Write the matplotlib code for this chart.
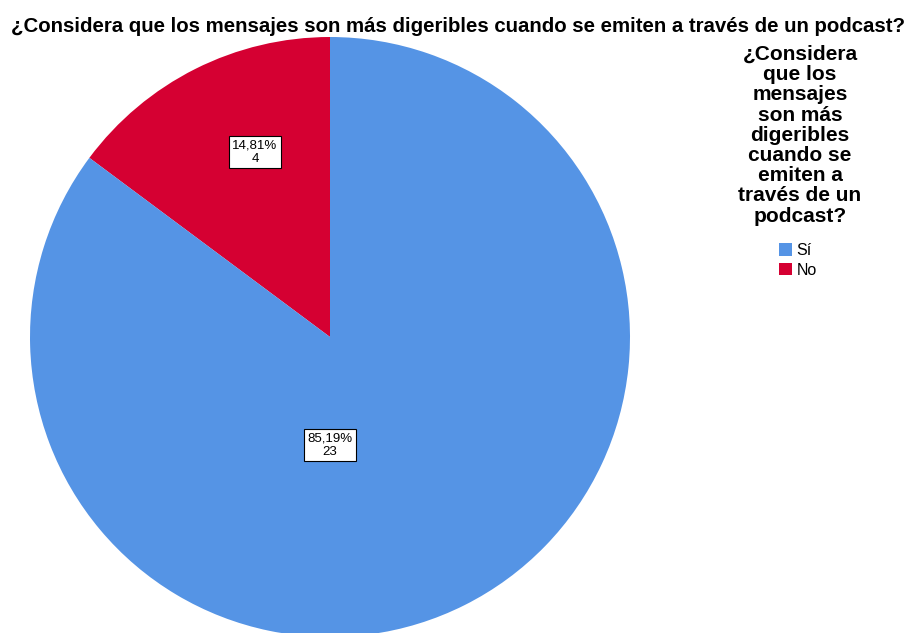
import matplotlib.pyplot as plt
from matplotlib.patches import Patch

# survey answers
categories = ["Sí", "No"]
counts = [23, 4]
colors = {"Sí": "#5594e5", "No": "#d50032"}
title = "¿Considera que los mensajes son más digeribles cuando se emiten a través de un podcast?"
legend_title = "¿Considera\nque los\nmensajes\nson más\ndigeribles\ncuando se\nemiten a\ntravés de un\npodcast?"

plt.rcParams['font.family'] = ['Liberation Sans', 'DejaVu Sans']

W, H = 912, 633
fig = plt.figure(figsize=(W / 100, H / 100), dpi=100)

# pie axes in pixel terms: center (330, 337), radius 300
cx, cy, r = 330, 337, 300
ax = fig.add_axes([(cx - r) / W, (H - cy - r) / H, 2 * r / W, 2 * r / H])

# No first so it sits left of 12 o'clock, Sí fills the rest
order = ["No", "Sí"]
vals = [counts[categories.index(c)] for c in order]
wedges, _ = ax.pie(vals, colors=[colors[c] for c in order], startangle=90,
                   radius=1, wedgeprops=dict(edgecolor='none', linewidth=0))
for w in wedges:
    w.set_clip_on(False)
ax.set_xlim(-1, 1)
ax.set_ylim(-1, 1)
ax.set_aspect('equal')
ax.axis('off')

total = sum(counts)
label_pos = {"No": (-0.25, 0.617), "Sí": (0.0, -0.36)}
for c, n in zip(categories, counts):
    pct = f"{100 * n / total:.2f}".replace(".", ",")
    x, y = label_pos[c]
    ax.text(x, y, f"{pct}%\n{n}", ha='center', va='center', fontsize=9.5,
            linespacing=1.15,
            bbox=dict(boxstyle='square,pad=0.25', fc='white', ec='black', lw=0.8))

fig.text(458 / W, 1 - 26 / H, title, ha='center', va='center',
         fontsize=14.7, fontweight='bold')

fig.text(800 / W, 1 - 45 / H, legend_title, ha='center', va='top',
         fontsize=15, fontweight='bold', linespacing=1.08)

handles = [Patch(facecolor=colors[c], edgecolor='none') for c in categories]
fig.legend(handles, categories, loc='upper left', bbox_to_anchor=(779 / W, 1 - 243 / H),
           frameon=False, fontsize=11.5, handlelength=0.8, handleheight=0.8,
           handletextpad=0.3, labelspacing=0.3, borderpad=0, borderaxespad=0)

fig.savefig("out.png", dpi=100)
